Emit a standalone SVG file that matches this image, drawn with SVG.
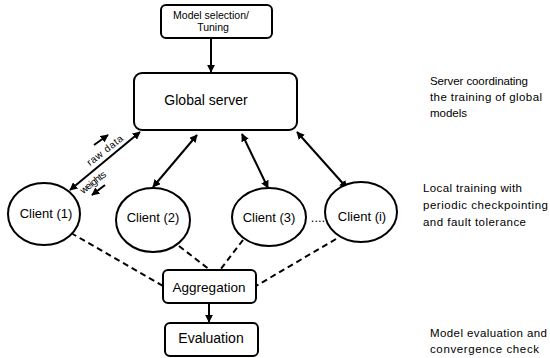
<svg xmlns="http://www.w3.org/2000/svg" width="550" height="358" viewBox="0 0 550 358">
<style>
.box{fill:#fff;stroke:#000;stroke-width:2}
.node{fill:#fff;stroke:#000;stroke-width:2}
.ln{stroke:#000;stroke-width:2;fill:none}
.dash{stroke:#000;stroke-width:2;fill:none;stroke-dasharray:6 4}
text{font-family:"Liberation Sans",Arial,sans-serif;fill:#000}
.lbl{font-size:13px;text-anchor:middle}
.note{font-size:11.5px}
.small{font-size:10px;text-anchor:middle}
</style>
<defs>
<marker id="ah" viewBox="0 0 10 10" refX="9" refY="5" markerWidth="4" markerHeight="4" orient="auto-start-reverse">
<path d="M0,0 L10,5 L0,10 z" fill="#000"/>
</marker>
</defs>
<rect width="550" height="358" fill="#fff"/>
<g id="connectors">
<line class="ln" x1="211" y1="38" x2="211" y2="72" marker-end="url(#ah)"/>
<line class="ln" x1="140" y1="132" x2="70" y2="190" marker-start="url(#ah)" marker-end="url(#ah)"/>
<line class="ln" x1="197" y1="135" x2="153" y2="187" marker-start="url(#ah)" marker-end="url(#ah)"/>
<line class="ln" x1="242" y1="134" x2="268" y2="188" marker-start="url(#ah)" marker-end="url(#ah)"/>
<line class="ln" x1="297" y1="132" x2="347" y2="188" marker-start="url(#ah)" marker-end="url(#ah)"/>
<line class="ln" x1="94" y1="145" x2="108" y2="135" marker-end="url(#ah)"/>
<line class="ln" x1="105" y1="185" x2="92" y2="195" marker-end="url(#ah)"/>
<line class="ln" x1="209" y1="303" x2="209" y2="322" marker-end="url(#ah)"/>
<line class="dash" x1="71" y1="233" x2="163" y2="286"/>
<line class="dash" x1="179" y1="246" x2="210" y2="270"/>
<line class="dash" x1="243" y1="240" x2="220" y2="270"/>
<line class="dash" x1="336" y1="239" x2="256" y2="286"/>
<text class="small" transform="translate(107,153) rotate(-38)" textLength="43">raw data</text>
<text class="small" transform="translate(95,185) rotate(-38)" textLength="30">weights</text>
</g>
<g id="model-selection">
<rect class="box" x="161" y="5" width="111" height="33" rx="5"/>
<text x="211" y="19" style="font-size:10.5px;text-anchor:middle">Model selection/</text>
<text x="213" y="31" style="font-size:10.5px;text-anchor:middle">Tuning</text>
</g>
<g id="global-server">
<rect class="box" x="134" y="73" width="163" height="57" rx="8"/>
<text x="206" y="105" class="lbl" style="font-size:14px">Global server</text>
</g>
<g id="client-1">
<ellipse class="node" cx="44" cy="214" rx="36" ry="31"/>
<text x="46" y="218" class="lbl">Client (1)</text>
</g>
<g id="client-2">
<ellipse class="node" cx="153" cy="220" rx="37" ry="32"/>
<text x="153" y="222" class="lbl">Client (2)</text>
</g>
<g id="client-3">
<ellipse class="node" cx="269" cy="217" rx="37" ry="29"/>
<text x="269" y="222" class="lbl">Client (3)</text>
</g>
<g id="dots">
<text x="318" y="222" class="lbl">....</text>
</g>
<g id="client-i">
<ellipse class="node" cx="361" cy="212" rx="36" ry="30"/>
<text x="362" y="221" class="lbl">Client (i)</text>
</g>
<g id="aggregation">
<rect class="box" x="163" y="270" width="93" height="33" rx="5"/>
<text x="209" y="292" class="lbl" style="font-size:13.5px">Aggregation</text>
</g>
<g id="evaluation">
<rect class="box" x="165" y="323" width="93" height="33" rx="5"/>
<text x="211" y="343" class="lbl" style="font-size:14px">Evaluation</text>
</g>
<g id="notes">
<text class="note" x="430" y="85" textLength="98">Server coordinating</text>
<text class="note" x="430" y="101" textLength="112">the training of global</text>
<text class="note" x="430" y="117">models</text>
<text class="note" x="423" y="192" textLength="99">Local training with</text>
<text class="note" x="423" y="209" textLength="125">periodic checkpointing</text>
<text class="note" x="423" y="226" textLength="103">and fault tolerance</text>
<text class="note" x="430" y="337" textLength="117">Model evaluation and</text>
<text class="note" x="430" y="353" textLength="109">convergence check</text>
</g>
</svg>
